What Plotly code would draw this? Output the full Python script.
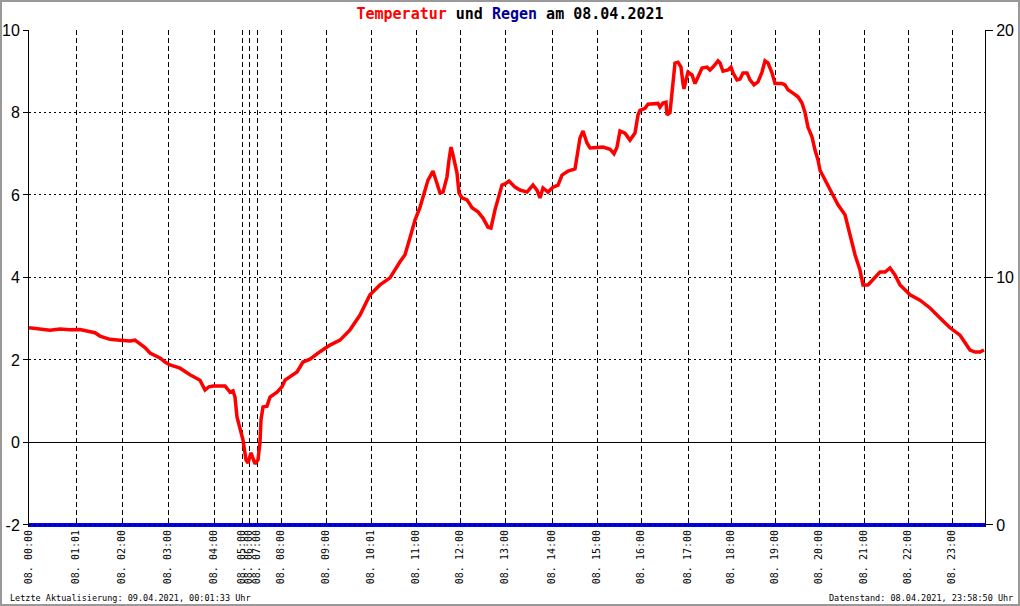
import plotly.graph_objects as go

# Messwerte als Stichproben-Index (Datenpunkte, nicht Uhrzeit) und Temperatur in °C
sample = [0, 11, 21, 31, 41, 51, 59, 66, 71, 76, 81, 91, 101, 106, 111, 116, 121, 131, 136, 141,
          151, 161, 171, 176, 180, 184, 196, 201, 204, 206, 208, 211, 214, 217, 219, 222, 224, 226,
          229, 231, 232, 234, 238, 241, 248, 253, 256, 261, 268, 274, 281, 291, 301, 311, 321, 331,
          341, 351, 361, 371, 376, 381, 386, 391, 396, 399, 404, 407, 411, 414, 418, 420, 422, 424,
          428, 430, 433, 438, 443, 449, 454, 459, 462, 466, 469, 473, 476, 480, 486, 491, 498, 504,
          508, 511, 514, 519, 524, 529, 533, 539, 546, 548, 551, 554, 558, 561, 568, 574, 581, 585,
          588, 591, 596, 601, 606, 609, 611, 616, 619, 629, 631, 634, 637, 638, 641, 643, 644, 646,
          649, 652, 654, 655, 657, 659, 663, 666, 669, 673, 678, 681, 684, 689, 691, 694, 699, 702,
          704, 708, 711, 714, 718, 721, 725, 729, 733, 736, 739, 743, 746, 753, 756, 759, 764, 769,
          773, 776, 779, 783, 786, 789, 791, 796, 801, 809, 816, 821, 826, 831, 834, 839, 846, 851,
          856, 861, 866, 871, 876, 881, 891, 901, 911, 921, 931, 936, 941, 946, 951, 955]
temp = [2.78, 2.75, 2.72, 2.75, 2.73, 2.74, 2.70, 2.66, 2.58, 2.55, 2.50, 2.48, 2.46, 2.48, 2.40,
        2.30, 2.17, 2.05, 1.95, 1.88, 1.80, 1.64, 1.51, 1.27, 1.35, 1.37, 1.37, 1.22, 1.25, 1.10,
        0.62, 0.30, 0.06, -0.42, -0.50, -0.25, -0.38, -0.52, -0.42, 0.00, 0.55, 0.86, 0.88, 1.10,
        1.22, 1.35, 1.51, 1.59, 1.71, 1.95, 2.02, 2.20, 2.36, 2.48, 2.73, 3.09, 3.58, 3.82, 3.99,
        4.38, 4.55, 4.96, 5.39, 5.70, 6.07, 6.36, 6.58, 6.36, 6.05, 6.07, 6.44, 6.85, 7.16, 6.97,
        6.53, 6.05, 5.93, 5.88, 5.69, 5.59, 5.44, 5.22, 5.20, 5.64, 5.88, 6.24, 6.27, 6.34, 6.19,
        6.12, 6.07, 6.24, 6.12, 5.93, 6.17, 6.07, 6.19, 6.24, 6.48, 6.58, 6.63, 6.97, 7.38, 7.55,
        7.26, 7.14, 7.16, 7.16, 7.11, 7.00, 7.16, 7.55, 7.50, 7.33, 7.50, 7.94, 8.05, 8.10, 8.20,
        8.22, 8.13, 8.23, 8.25, 7.94, 8.00, 8.55, 8.86, 9.20, 9.22, 9.10, 8.70, 8.57, 8.79, 8.98,
        8.91, 8.70, 8.86, 9.08, 9.10, 9.03, 9.10, 9.25, 9.20, 9.00, 9.03, 9.10, 8.96, 8.79, 8.81,
        8.96, 8.96, 8.79, 8.67, 8.74, 8.98, 9.25, 9.20, 8.96, 8.70, 8.70, 8.67, 8.55, 8.47, 8.38,
        8.23, 8.00, 7.64, 7.41, 7.09, 6.85, 6.60, 6.36, 6.12, 5.76, 5.52, 5.03, 4.55, 4.18, 3.82,
        3.82, 3.99, 4.13, 4.13, 4.23, 4.06, 3.82, 3.70, 3.58, 3.45, 3.26, 3.02, 2.78, 2.60, 2.41,
        2.24, 2.19, 2.19, 2.24]

# Regen (mm) - den ganzen Tag kein Niederschlag
rain_sample = [0, 956]
rain = [0.0, 0.0]

# Beschriftung der x-Achse an den Datenpunkten der vollen Stunden
tick_sample = [0, 47, 93, 139, 185, 213, 220, 228, 252, 297, 342, 387, 431, 476, 523, 568,
               612, 659, 702, 746, 790, 835, 879, 923]
tick_text = ["08. 00:00", "08. 01:01", "08. 02:00", "08. 03:00", "08. 04:00", "08. 05:00",
             "08. 06:00", "08. 07:00", "08. 08:00", "08. 09:00", "08. 10:01", "08. 11:00",
             "08. 12:00", "08. 13:00", "08. 14:00", "08. 15:00", "08. 16:00", "08. 17:00",
             "08. 18:00", "08. 19:00", "08. 20:00", "08. 21:00", "08. 22:00", "08. 23:00"]

temp_ticks = [-2, 0, 2, 4, 6, 8, 10]
rain_ticks = [0, 10, 20]

W, H = 1020, 606
ML, MR, MT, MB = 29, 35, 30, 79
pw, ph = W - ML - MR, H - MT - MB
mono = "DejaVu Sans Mono"

fig = go.Figure()

fig.add_trace(go.Scatter(
    x=rain_sample, y=rain, yaxis="y2", mode="lines",
    line=dict(color="#0000ff", width=4), name="Regen", hoverinfo="skip"
))
fig.add_trace(go.Scatter(
    x=sample, y=temp, mode="lines",
    line=dict(color="#ff0000", width=3.5), name="Temperatur"
))

fig.update_layout(
    width=W, height=H,
    margin=dict(l=ML, r=MR, t=MT, b=MB, pad=0, autoexpand=False),
    paper_bgcolor="white", plot_bgcolor="white",
    showlegend=False,
    title=dict(
        text="<span style='color:#ff0000'>Temperatur</span> und "
             "<span style='color:#000099'>Regen</span> am 08.04.2021",
        x=0.5, xanchor="center", y=1 - 14 / H, yanchor="middle",
        font=dict(family=mono, size=15, color="black", weight="bold")
    ),
    xaxis=dict(
        range=[0, 956], tickvals=tick_sample, ticktext=tick_text, tickangle=-90,
        tickfont=dict(family=mono, size=10, color="black"), automargin=False,
        showgrid=True, gridcolor="black", gridwidth=1, griddash="5px,3px",
        zeroline=False, showline=False, ticks=""
    ),
    yaxis=dict(
        range=[-2.05, 10], tickvals=temp_ticks, ticktext=[str(v) for v in temp_ticks],
        tickfont=dict(family="Liberation Sans", size=16, color="black"), automargin=False,
        showgrid=True, gridcolor="black", gridwidth=1, griddash="2px,3px",
        zeroline=True, zerolinecolor="black", zerolinewidth=1,
        showline=True, linecolor="black", linewidth=1,
        ticks="outside", ticklen=5, tickcolor="black"
    ),
    yaxis2=dict(
        range=[-0.0833, 20], overlaying="y", side="right", tickvals=rain_ticks,
        tickfont=dict(family="Liberation Sans", size=16, color="black"), automargin=False,
        showgrid=False, zeroline=False,
        showline=True, linecolor="black", linewidth=1,
        ticks="outside", ticklen=7, tickcolor="black"
    ),
    shapes=[
        # gepunktete Linie über dem Regenbalken
        dict(type="line", xref="paper", yref="y", x0=0, x1=1, y0=-2, y1=-2,
             line=dict(color="black", width=1, dash="2px,3px"), layer="above"),
        # grauer Rahmen ums Bild
        dict(type="rect", xref="paper", yref="paper",
             x0=-(ML - 1) / pw, x1=1 + (MR - 1) / pw,
             y0=-(MB - 1) / ph, y1=1 + (MT - 1) / ph,
             line=dict(color="#999999", width=2), layer="above"),
    ],
    annotations=[
        dict(text="Letzte Aktualisierung: 09.04.2021, 00:01:33 Uhr",
             xref="paper", yref="paper", x=(8 - ML) / pw, y=-(598 - (H - MB)) / ph,
             xanchor="left", yanchor="middle", showarrow=False,
             font=dict(family=mono, size=8.5, color="black")),
        dict(text="Datenstand: 08.04.2021, 23:58:50 Uhr",
             xref="paper", yref="paper", x=(1015 - ML) / pw, y=-(598 - (H - MB)) / ph,
             xanchor="right", yanchor="middle", showarrow=False,
             font=dict(family=mono, size=8.5, color="black")),
    ]
)

# Seitenrand entfernen, damit die Grafik genau im Fenster liegt
fig.write_html("out.html", config={"displayModeBar": False},
               post_script="document.body.style.margin='0px';")
